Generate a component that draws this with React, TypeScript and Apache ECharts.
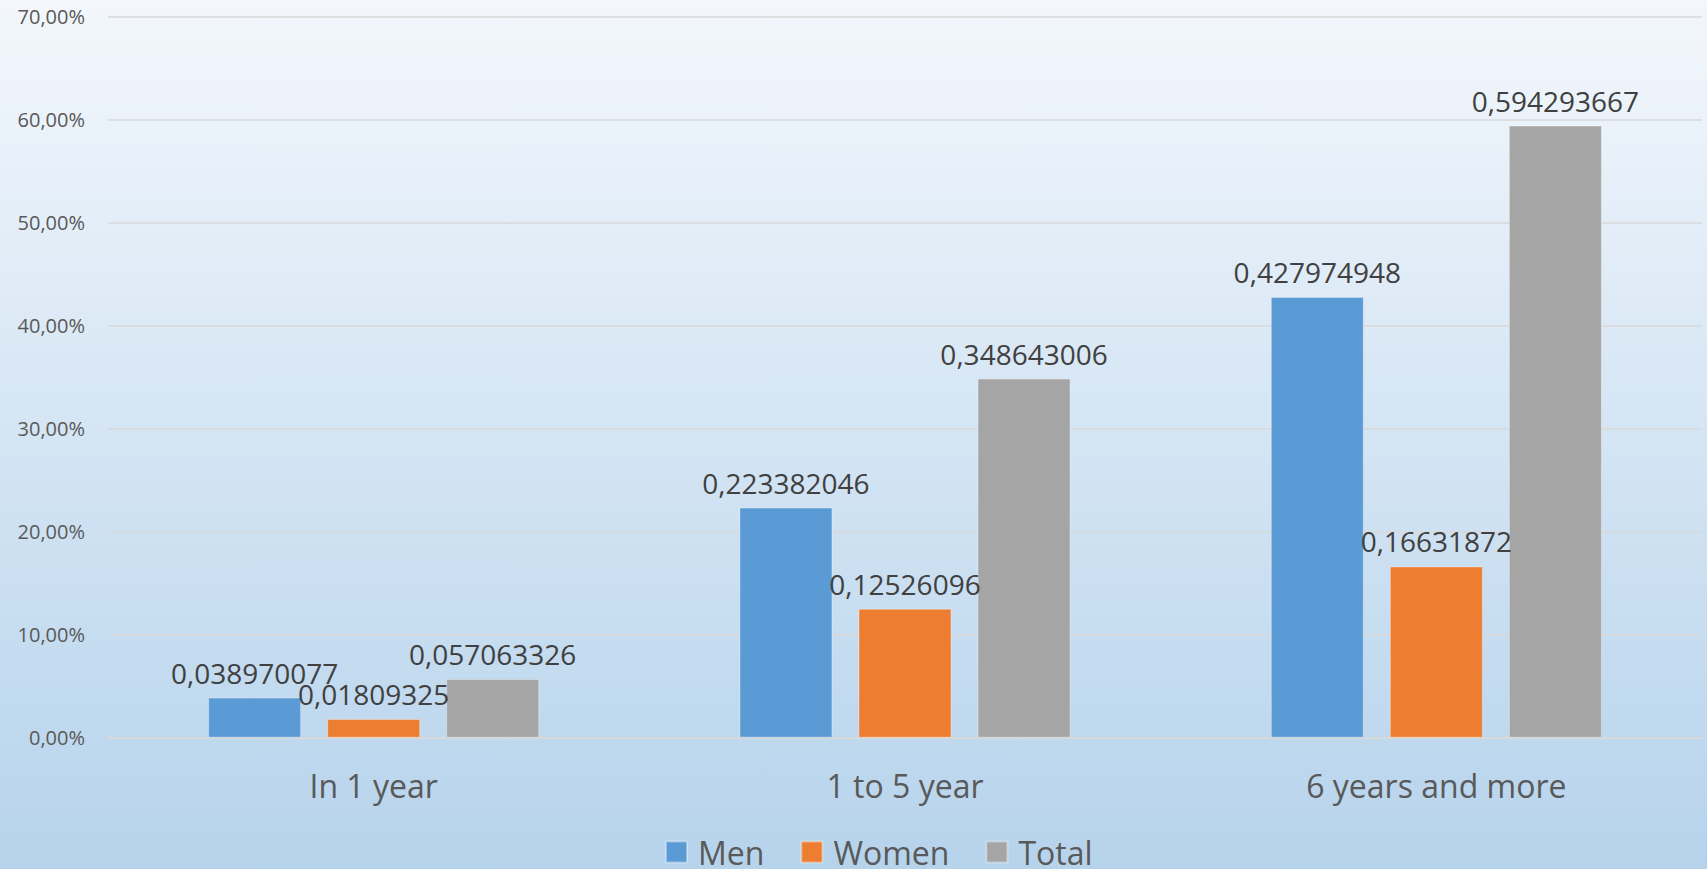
import React, { useEffect, useRef } from "react";
import * as echarts from "echarts";

const categories = ["In 1 year", "1 to 5 year", "6 years and more"];
const men = [0.038970077, 0.223382046, 0.427974948];
const women = [0.01809325, 0.12526096, 0.16631872];
const total = [0.057063326, 0.348643006, 0.594293667];
const seriesNames = ["Men", "Women", "Total"];
const colors = ["#5b9bd5", "#ed7d31", "#a5a5a5"];

const FONT = "'Open Sans', 'Noto Sans', sans-serif";

function fmtLabel(v: number): string {
  return String(v).replace(".", ",");
}

export default function App() {
  const ref = useRef<HTMLDivElement>(null);
  useEffect(() => {
    if (!ref.current) return;
    const chart = echarts.init(ref.current, null, { renderer: "svg" });
    const data = [men, women, total];
    chart.setOption({
      animation: false,
      backgroundColor: new echarts.graphic.LinearGradient(0, 0, 0, 1, [
        { offset: 0, color: "#f3f7fc" },
        { offset: 1, color: "#b6d3ec" },
      ]),
      textStyle: { fontFamily: FONT },
      grid: { left: 108, right: 5, top: 16.7, bottom: 131.3, containLabel: false },
      legend: {
        data: seriesNames,
        left: 660,
        top: 831,
        icon: "rect",
        itemWidth: 21,
        itemHeight: 21,
        itemGap: 36,
        textStyle: { fontSize: 32, color: "#595959", fontFamily: FONT, padding: [0, 0, 0, 6] },
      },
      xAxis: {
        type: "category",
        data: categories,
        axisTick: { show: false },
        axisLine: { show: true, lineStyle: { color: "#d9d9d9", width: 1.5 } },
        axisLabel: { fontSize: 32, color: "#595959", margin: 32, fontFamily: FONT },
      },
      yAxis: {
        type: "value",
        min: 0,
        max: 0.7,
        interval: 0.1,
        axisLine: { show: false },
        axisTick: { show: false },
        splitLine: { lineStyle: { color: "#d9d9d9", width: 1.5 } },
        axisLabel: {
          fontSize: 20,
          color: "#595959",
          margin: 23,
          fontFamily: FONT,
          formatter: (v: number) => (v * 100).toFixed(2).replace(".", ",") + "%",
        },
      },
      series: seriesNames.map((name, i) => ({
        name,
        type: "bar",
        data: data[i],
        barWidth: 93,
        barGap: "28%",
        itemStyle: { color: colors[i], borderColor: "rgba(255,255,255,0.35)", borderWidth: 1 },
        label: {
          show: true,
          position: "top",
          distance: 11,
          fontSize: 28,
          color: "#404040",
          fontFamily: FONT,
          formatter: (p: any) => fmtLabel(p.value),
        },
      })),
    });
    return () => chart.dispose();
  }, []);
  return (
    <div
      ref={ref}
      style={{ position: "fixed", left: 0, top: 0, width: 1707, height: 869 }}
    />
  );
}
